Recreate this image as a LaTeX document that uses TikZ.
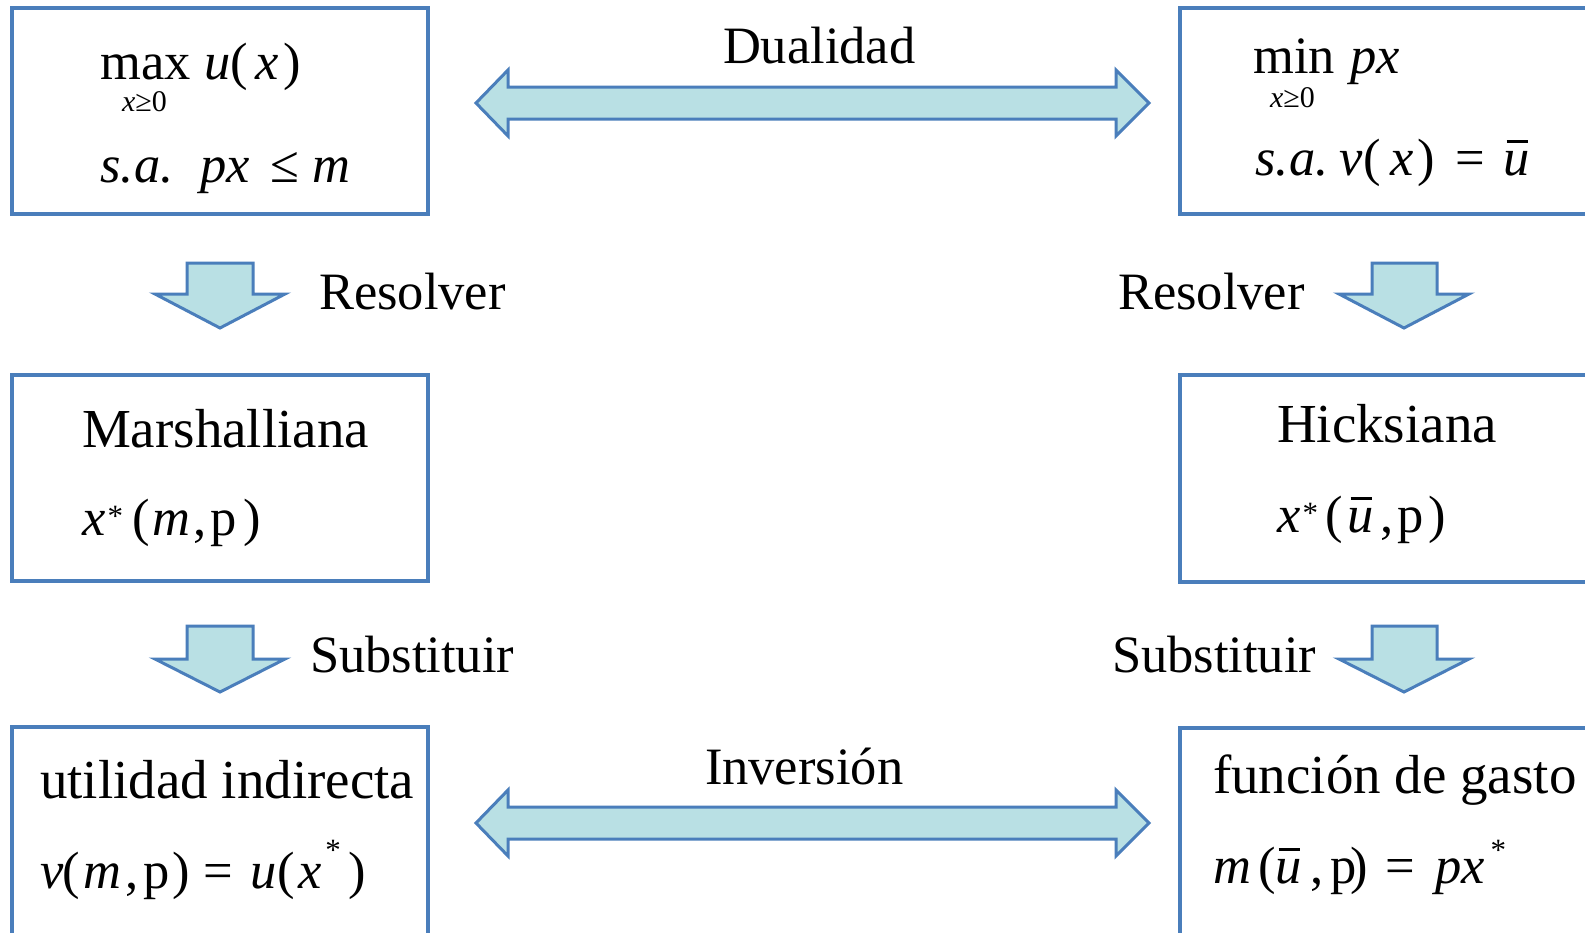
\documentclass[tikz,border=0pt]{standalone}
\usepackage{fontspec}
\setmainfont{Liberation Serif}
\definecolor{boxblue}{HTML}{4A7EBB}
\definecolor{arrowfill}{HTML}{B9E0E4}
\newcommand\pc[2]{\rlap{\hspace*{#1pt}#2}}
\newcommand\ubar{\rlap{\hspace*{3pt}\rule[32pt]{21pt}{2.6pt}}\textit{u}}
\newcommand\sstar[1]{\raisebox{#1pt}{\fontsize{31}{31}\selectfont *}}
\begin{document}
\begin{tikzpicture}[x=1pt,y=-1pt,
  box/.style={draw=boxblue,line width=4pt,rectangle,inner sep=0pt,outer sep=0pt},
  blockarrow/.style={draw=boxblue,fill=arrowfill,line width=3pt,line join=miter},
  txt/.style={inner sep=0pt,outer sep=0pt,anchor=base west,font=\fontsize{52.5}{60}\selectfont},
  wordtxt/.style={txt,font=\fontsize{55}{62}\selectfont},
  subtxt/.style={inner sep=0pt,outer sep=0pt,anchor=base west,font=\fontsize{30}{34}\selectfont}]
\useasboundingbox (0,0) rectangle (1585,932);
\clip (0,0) rectangle (1585,932);
\fill[white] (0,0) rectangle (1585,932);

% boxes
\node[box,minimum width=416pt,minimum height=206pt] (primal) at (220,111) {};
\node[box,minimum width=460pt,minimum height=206pt] (dual) at (1410,111) {};
\node[box,minimum width=416pt,minimum height=206pt] (marsh) at (220,478) {};
\node[box,minimum width=460pt,minimum height=207pt] (hicks) at (1410,478.5) {};
\node[box,minimum width=416pt,minimum height=240pt] (indir) at (220,847) {};
\node[box,minimum width=460pt,minimum height=240pt] (gasto) at (1410,847.5) {};

% double arrows
\draw[blockarrow] (476,103) -- (508,70) -- (508,87) -- (1116,87) -- (1116,70) -- (1149,103)
  -- (1116,136) -- (1116,119) -- (508,119) -- (508,136) -- cycle;
\draw[blockarrow] (476,823) -- (508,790) -- (508,807) -- (1116,807) -- (1116,790) -- (1149,823)
  -- (1116,856) -- (1116,839) -- (508,839) -- (508,856) -- cycle;

% down arrows
\draw[blockarrow] (187,263) -- (253,263) -- (253,294) -- (285,294) -- (220,328) -- (155,294) -- (187,294) -- cycle;
\draw[blockarrow] (187,626) -- (253,626) -- (253,659) -- (285,659) -- (220,692) -- (155,659) -- (187,659) -- cycle;
\draw[blockarrow] (1372,263) -- (1437,263) -- (1437,294) -- (1469,294) -- (1404,328) -- (1339,294) -- (1372,294) -- cycle;
\draw[blockarrow] (1372,626) -- (1437,626) -- (1437,659) -- (1469,659) -- (1404,692) -- (1339,659) -- (1372,659) -- cycle;

% labels
\node[txt] (dualidad) at (723,63) {Dualidad};
\node[txt] (inversion) at (705,784) {Inversión};
\node[txt] (resL) at (319,309) {Resolver};
\node[txt] (resR) at (1118,309) {Resolver};
\node[txt] (subL) at (310,672) {Substituir};
\node[txt] (subR) at (1112,672) {Substituir};

% primal box
\node[txt] (p1) at (100,79) {\pc{0}{max}\pc{104}{\textit{u}}\pc{130}{(}\pc{155}{\textit{x}}\pc{183}{)}};
\node[subtxt] (p1s) at (122,111) {\textit{x}≥0};
\node[txt] (p2) at (100,182) {\pc{0}{\textit{s.a.}}\pc{100}{\textit{px}}\pc{170}{≤}\pc{212}{\textit{m}}};

% dual box
\node[txt] (d1) at (1253,73) {\pc{0}{min}\pc{97}{\textit{px}}};
\node[subtxt] (d1s) at (1270,107) {\textit{x}≥0};
\node[txt] (d2) at (1255,175) {\pc{0}{\textit{s.a.}}\pc{84}{\textit{v}}\pc{108}{(}\pc{135}{\textit{x}}\pc{162}{)}\pc{200}{=}\pc{248}{\ubar}};

% Marshalliana
\node[wordtxt] (m1) at (82,447) {Marshalliana};
\node[txt] (m2) at (82,535) {\pc{0}{\textit{x}}\pc{25}{\sstar{9}}\pc{50}{(}\pc{70}{\textit{m}}\pc{111}{,}\pc{128}{p}\pc{161}{)}};

% Hicksiana
\node[wordtxt] (h1) at (1277,442) {Hicksiana};
\node[txt] (h2) at (1277,532) {\pc{0}{\textit{x}}\pc{25}{\sstar{9}}\pc{48}{(}\pc{70}{\ubar}\pc{103}{,}\pc{120}{p}\pc{151}{)}};

% utilidad indirecta
\node[wordtxt] (u1) at (40,798) {utilidad indirecta};
\node[txt] (u2) at (40,888) {\pc{0}{\textit{v}}\pc{22}{(}\pc{43}{\textit{m}}\pc{85}{,}\pc{103}{p}\pc{132}{)}\pc{163}{=}\pc{210}{\textit{u}}\pc{237}{(}\pc{258}{\textit{x}}\pc{285}{\sstar{28}}\pc{308}{)}};

% funcion de gasto
\node[wordtxt] (g1) at (1213,793) {función de gasto};
\node[txt] (g2) at (1213,883) {\pc{0}{\textit{m}}\pc{45}{(}\pc{62}{\ubar}\pc{97}{,}\pc{117}{p}\pc{137}{)}\pc{172}{=}\pc{222}{\textit{px}}\pc{277}{\sstar{23}}};
\end{tikzpicture}
\end{document}
